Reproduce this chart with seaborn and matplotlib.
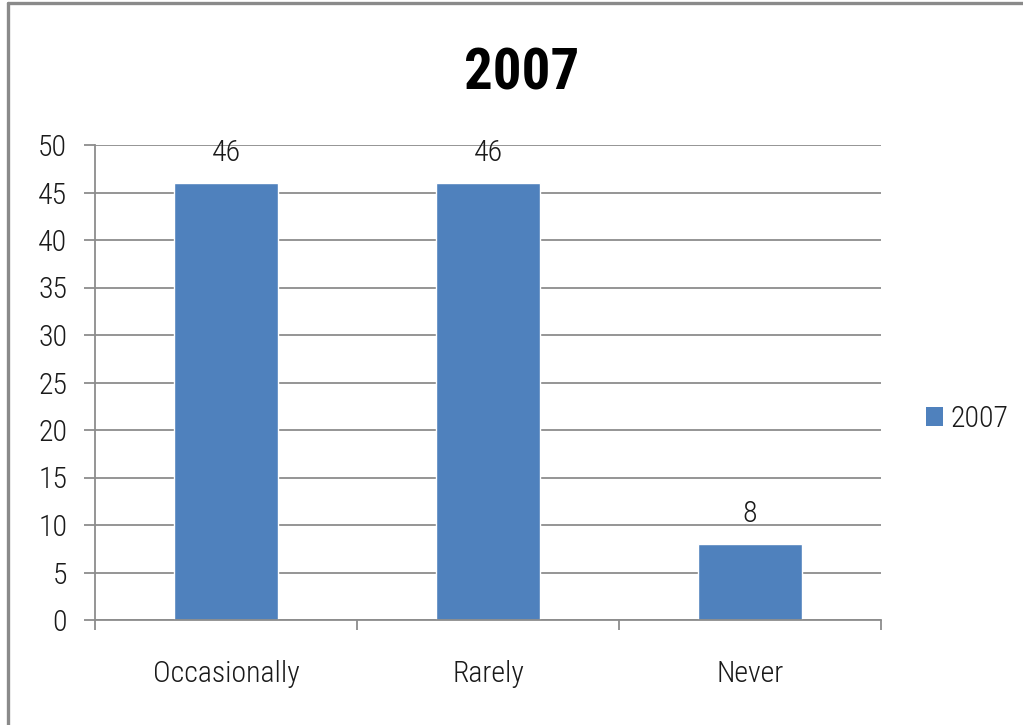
import matplotlib
matplotlib.use("Agg")
import matplotlib.pyplot as plt
from matplotlib import font_manager
from matplotlib.lines import Line2D
from matplotlib.ticker import FixedLocator
import seaborn as sns
import pandas as pd

# Survey responses for 2007 (percent)
categories = ["Occasionally", "Rarely", "Never"]
values = [46, 46, 8]
series_name = "2007"
y_ticks = [0, 5, 10, 15, 20, 25, 30, 35, 40, 45, 50]

BAR_COLOR = "#4F81BD"
GRID_COLOR = "#8C8C8C"
TEXT_COLOR = "#1A1A1A"

sns.set_theme(style="white")

# Prefer a narrow sans face for the chart text
fonts = font_manager.fontManager.ttflist
names = {f.name for f in fonts}
family, stretch, scale = "Liberation Sans", "normal", 0.86
for cand in ["Liberation Sans Narrow", "Roboto Condensed", "Open Sans Condensed",
             "Arial Narrow", "Noto Sans Condensed"]:
    if cand in names:
        family, scale = cand, 1.0
        break
plt.rcParams["font.family"] = [family, "DejaVu Sans"]
plt.rcParams["font.stretch"] = stretch
plt.rcParams["font.weight"] = "light"

FS = 21.5 * scale
TITLE_FS = 41 * scale

df = pd.DataFrame({"category": categories, "value": values, "series": series_name})

fig = plt.figure(figsize=(10.23, 7.25), dpi=100)
ax = fig.add_axes([95 / 1023, 1 - 620 / 725, (881 - 95) / 1023, (620 - 145) / 725])

sns.barplot(data=df, x="category", y="value", hue="series", palette=[BAR_COLOR],
            width=0.4, saturation=1, ax=ax, legend=False)

ax.set_xlim(-0.5, 2.5)
ax.set_ylim(0, 50)
ax.set_yticks(y_ticks)
ax.set_xlabel("")
ax.set_ylabel("")

# Horizontal gridlines
ax.yaxis.grid(True, color=GRID_COLOR, linewidth=1.3)
ax.xaxis.grid(False)
ax.set_axisbelow(True)

for side in ["top", "right"]:
    ax.spines[side].set_visible(False)
for side in ["left", "bottom"]:
    ax.spines[side].set_visible(True)
    ax.spines[side].set_color(GRID_COLOR)
    ax.spines[side].set_linewidth(1.3)

ax.tick_params(axis="y", which="major", direction="out", length=8, width=1.3,
               color=GRID_COLOR, pad=12, labelsize=FS, labelcolor=TEXT_COLOR, left=True)
ax.tick_params(axis="x", which="major", length=0, pad=29, labelsize=FS, labelcolor=TEXT_COLOR)
ax.xaxis.set_minor_locator(FixedLocator([-0.5, 0.5, 1.5, 2.5]))
ax.tick_params(axis="x", which="minor", direction="out", length=7, width=1.3,
               color=GRID_COLOR, bottom=True)

# Value labels above each bar
for i, v in enumerate(values):
    ax.annotate(f"{v}", xy=(i, v), xytext=(0, 16), textcoords="offset points",
                ha="center", va="baseline", fontsize=FS, color=TEXT_COLOR)

# Title
fig.text(522 / 1023, 1 - 90 / 725, "2007", ha="center", va="baseline",
         fontsize=TITLE_FS, fontweight="bold", color="black")

# Legend on the right
handles = [plt.Rectangle((0, 0), 1, 1, facecolor=BAR_COLOR, edgecolor="none")]
fig.legend(handles, [series_name], loc="center left",
           bbox_to_anchor=(926 / 1023, 1 - 419 / 725), frameon=False,
           fontsize=FS, handlelength=0.56 * 22 / FS, handleheight=0.56 * 22 / FS,
           handletextpad=0.25, borderpad=0, borderaxespad=0, labelcolor=TEXT_COLOR)

# Chart frame (left and top edges)
fig.add_artist(Line2D([8 / 1023, 8 / 1023], [0, 1 - 3 / 725], transform=fig.transFigure,
                      color="#8A8A8A", linewidth=2.4))
fig.add_artist(Line2D([8 / 1023, 1], [1 - 3 / 725, 1 - 3 / 725], transform=fig.transFigure,
                      color="#8A8A8A", linewidth=2.4))

fig.savefig("out.png", dpi=100, facecolor="white")
